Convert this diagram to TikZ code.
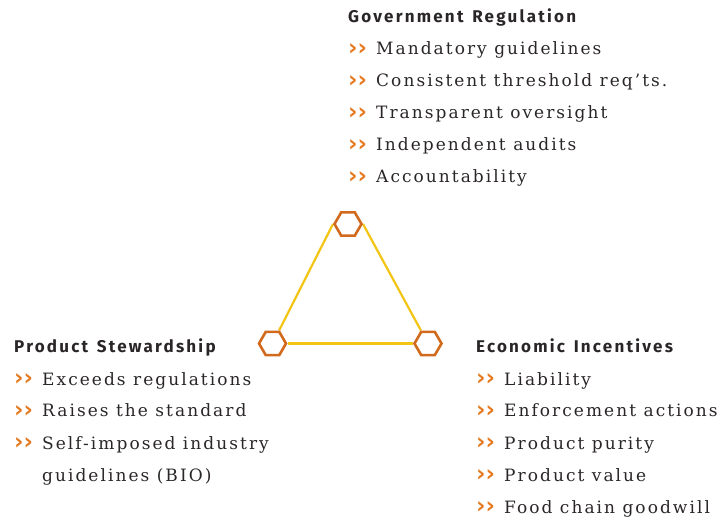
\documentclass[tikz,border=0pt]{standalone}
\usepackage{fontspec}
\setmainfont{DejaVu Serif}
\newfontfamily\headfont[LetterSpace=13,WordSpace=1.4]{Fira Sans}
\newfontfamily\itemfont[LetterSpace=12]{DejaVu Serif}
\newfontfamily\chevfont{DejaVu Sans}
\usetikzlibrary{shapes.geometric,backgrounds}
\definecolor{hexorange}{HTML}{D26A1E}
\definecolor{chevorange}{HTML}{E47B22}
\definecolor{lineyellow}{HTML}{F2C414}
\definecolor{textgray}{HTML}{2A2627}
\newcommand{\chev}{\makebox[28pt][l]{\chevfont\bfseries\color{chevorange}\fontsize{23}{23}\selectfont\raisebox{-0.5pt}{››}}}

\begin{document}
\begin{tikzpicture}[x=1pt,y=-1pt,
    hex/.style={regular polygon, regular polygon sides=6, minimum size=27pt,
      inner sep=0pt, draw=hexorange, line width=2.6pt, fill=white},
    link/.style={draw=lineyellow, line width=2.2pt},
    heading/.style={anchor=base west, inner sep=0pt, text=textgray,
      font=\headfont\bfseries\fontsize{17}{17}\selectfont},
    entry/.style={anchor=base west, inner sep=0pt, text=textgray,
      font=\itemfont\fontsize{17}{17}\selectfont}]
  \useasboundingbox (0,0) rectangle (720,518);

  %%%%% HEXAGONS %%%%%
  \node[hex] (gov) at (348,224) {};
  \node[hex] (stew) at (272.5,343.5) {};
  \node[hex] (econ) at (428,343.5) {};

  \begin{pgfonlayer}{background}
    \draw[link] (gov.west) -- (stew);
    \draw[link] (gov.east) -- (econ);
    \draw[link] (stew.east) -- (econ.west);
  \end{pgfonlayer}

  %%%%% GOVERNMENT REGULATION %%%%%
  \node[heading] (gov-head) at (348,23) {Government Regulation};
  \foreach \txt [count=\i] in {Mandatory guidelines, Consistent threshold req’ts.,
      Transparent oversight, Independent audits, Accountability}
    \node[entry] (gov-\i) at (348,23+32*\i) {\chev\txt};

  %%%%% PRODUCT STEWARDSHIP %%%%%
  \node[heading] (stew-head) at (14,353) {Product Stewardship};
  \foreach \txt [count=\i] in {Exceeds regulations, Raises the standard,
      Self-imposed industry}
    \node[entry] (stew-\i) at (14,353+32*\i) {\chev\txt};
  \node[entry] (stew-4) at (42,481) {guidelines (BIO)};

  %%%%% ECONOMIC INCENTIVES %%%%%
  \node[heading] (econ-head) at (476,353) {Economic Incentives};
  \foreach \txt [count=\i] in {Liability, Enforcement actions, Product purity,
      Product value, Food chain goodwill}
    \node[entry] (econ-\i) at (476,353+32*\i) {\chev\txt};
\end{tikzpicture}
\end{document}
